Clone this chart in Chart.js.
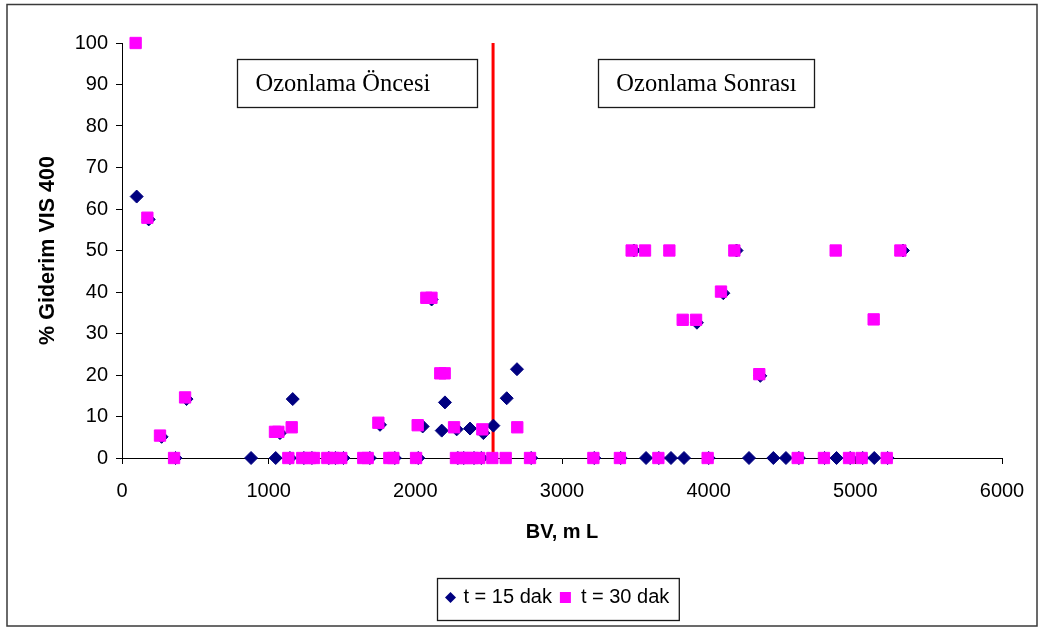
<!DOCTYPE html>
<html>
<head>
<meta charset="utf-8">
<script src="https://cdn.jsdelivr.net/npm/chart.js@4.4.1/dist/chart.umd.min.js"></script>
<style>
  html, body { margin: 0; padding: 0; background: #ffffff; }
  #wrap { width: 1043px; height: 628px; position: relative; }
</style>
</head>
<body>
<div id="wrap"><canvas id="chart" width="1043" height="628"></canvas></div>
<script>
// Series names
const seriesNames = ['t = 15 dak', 't = 30 dak'];

// t = 15 dak : bed volume (mL) and % removal
const bv15 = [100, 182, 270, 365, 440, 880, 1048, 1077, 1145, 1164, 1240, 1295, 1410, 1455, 1510,
  1690, 1759, 1860, 2020, 2050, 2111, 2180, 2202, 2282, 2290, 2330, 2373, 2400, 2450, 2464,
  2532, 2623, 2693, 2790, 3220, 3400, 3490, 3573, 3660, 3743, 3832, 3920, 4000, 4100, 4190,
  4275, 4352, 4441, 4527, 4615, 4790, 4872, 4965, 5050, 5129, 5220, 5325];
const giderim15 = [63, 57.5, 5.1, 0, 14.2, 0, 0, 6.0, 0, 14.2, 0, 0, 0, 0, 0,
  0, 8.0, 0, 0, 7.6, 38.2, 6.6, 13.4, 6.9, 0, 0, 7.1, 0, 0, 6.0,
  7.8, 14.4, 21.4, 0, 0, 0, 50, 0, 0, 0, 0, 32.6, 0, 39.7, 50,
  0, 19.8, 0, 0, 0, 0, 0, 0, 0, 0, 0, 50];

// t = 30 dak : bed volume (mL) and % removal
const bv30 = [93, 173, 259, 355, 430, 1043, 1066, 1134, 1157, 1229, 1282, 1309, 1400, 1440, 1495,
  1645, 1675, 1748, 1823, 1850, 2005, 2016, 2075, 2110, 2170, 2200, 2264, 2277, 2316, 2350,
  2391, 2436, 2457, 2525, 2616, 2695, 2782, 3214, 3395, 3475, 3566, 3657, 3732, 3823, 3914,
  3993, 4084, 4175, 4345, 4607, 4786, 4866, 4957, 5043, 5125, 5214, 5307];
const giderim30 = [100, 57.9, 5.4, 0, 14.6, 6.3, 6.3, 0, 7.4, 0, 0, 0, 0, 0, 0,
  0, 0, 8.5, 0, 0, 0, 7.9, 38.6, 38.6, 20.4, 20.4, 7.4, 0, 0, 0,
  0, 0, 6.9, 0, 0, 7.4, 0, 0, 0, 50, 50, 0, 50, 33.3, 33.3,
  0, 40.1, 50, 20.2, 0, 0, 50, 0, 0, 33.4, 0, 50];

// Bed volume at which ozonation starts (divider line)
const ozonationBV = 2530;
const regionLabels = ['Ozonlama Öncesi', 'Ozonlama Sonrası'];

// Axis ticks
const xTicks = [0, 1000, 2000, 3000, 4000, 5000, 6000];
const yTicks = [0, 10, 20, 30, 40, 50, 60, 70, 80, 90, 100];
const xTitle = 'BV, m L';
const yTitle = '% Giderim VIS 400';

const NAVY = '#000080';
const MAGENTA = '#ff00ff';
const SANS = '"Liberation Sans", Arial, sans-serif';
const SERIF = '"Liberation Serif", "Times New Roman", serif';

const toPoints = (xs, ys) => xs.map((x, i) => ({ x: x, y: ys[i] }));

// Frame, region captions and legend box
const decorations = {
  id: 'decorations',
  afterDraw(chart) {
    const ctx = chart.ctx;
    const xs = chart.scales.x, ys = chart.scales.y;
    ctx.save();

    // outer frame
    ctx.strokeStyle = '#3a3a3a';
    ctx.lineWidth = 1.5;
    ctx.strokeRect(7, 4.5, 1030, 621.5);

    // region captions (boxes anchored to data coordinates)
    const boxes = [
      { text: regionLabels[0], x0: 785, x1: 2420, pad: 18, align: 'left' },
      { text: regionLabels[1], x0: 3245, x1: 4718, pad: 0, align: 'center' }
    ];
    ctx.font = '24.5px ' + SERIF;
    ctx.textBaseline = 'middle';
    boxes.forEach(b => {
      const left = Math.round(xs.getPixelForValue(b.x0)) + 0.5;
      const right = Math.round(xs.getPixelForValue(b.x1)) + 0.5;
      const top = Math.round(ys.getPixelForValue(96.2)) + 0.5;
      const bottom = Math.round(ys.getPixelForValue(84.6)) + 0.5;
      ctx.fillStyle = '#ffffff';
      ctx.fillRect(left, top, right - left, bottom - top);
      ctx.strokeStyle = '#1a1a1a';
      ctx.lineWidth = 1.3;
      ctx.strokeRect(left, top, right - left, bottom - top);
      ctx.fillStyle = '#000000';
      ctx.textAlign = b.align;
      const tx = b.align === 'left' ? left + b.pad : (left + right) / 2;
      ctx.fillText(b.text, tx, (top + bottom) / 2 + 1);
    });

    // legend
    ctx.font = '20px ' + SANS;
    const w1 = ctx.measureText(seriesNames[0]).width;
    const w2 = ctx.measureText(seriesNames[1]).width;
    const legendW = 13 + 13 + w1 + 8 + 11 + 10 + w2 + 10;
    const cx = (chart.chartArea.left + chart.chartArea.right) / 2 - 4;
    const lx = Math.round(cx - legendW / 2) + 0.5;
    const ly = 578.5, lh = 42;
    ctx.strokeStyle = '#1a1a1a';
    ctx.lineWidth = 1.3;
    ctx.strokeRect(lx, ly, legendW, lh);
    const my = ly + lh / 2 - 2;
    // diamond marker
    let px = lx + 13;
    ctx.fillStyle = NAVY;
    ctx.beginPath();
    ctx.moveTo(px, my - 5.5); ctx.lineTo(px + 5.5, my); ctx.lineTo(px, my + 5.5); ctx.lineTo(px - 5.5, my);
    ctx.closePath(); ctx.fill();
    ctx.fillStyle = '#000000';
    ctx.textAlign = 'left';
    ctx.textBaseline = 'middle';
    px += 13;
    ctx.fillText(seriesNames[0], px, my);
    px += w1 + 8;
    // square marker
    ctx.fillStyle = MAGENTA;
    ctx.fillRect(px, my - 5.5, 11, 11);
    px += 11 + 10;
    ctx.fillStyle = '#000000';
    ctx.fillText(seriesNames[1], px, my);
    ctx.restore();
  }
};

new Chart(document.getElementById('chart'), {
  type: 'scatter',
  data: {
    datasets: [
      {
        label: seriesNames[1],
        data: toPoints(bv30, giderim30),
        pointStyle: 'rect',
        pointRadius: 8,
        pointBackgroundColor: MAGENTA,
        pointBorderColor: MAGENTA,
        pointBorderWidth: 1,
        order: 1,
        clip: false
      },
      {
        label: seriesNames[0],
        data: toPoints(bv15, giderim15),
        pointStyle: 'rectRot',
        pointRadius: 6.5,
        pointBackgroundColor: NAVY,
        pointBorderColor: NAVY,
        pointBorderWidth: 1,
        order: 2,
        clip: false
      },
      {
        type: 'line',
        label: 'ozonation',
        data: [{ x: ozonationBV, y: yTicks[0] }, { x: ozonationBV, y: yTicks[yTicks.length - 1] }],
        borderColor: '#ff0000',
        borderWidth: 3,
        pointRadius: 0,
        fill: false,
        order: 3,
        clip: false
      }
    ]
  },
  options: {
    responsive: false,
    animation: false,
    devicePixelRatio: 1,
    layout: { padding: { left: 0, right: 41, top: 43, bottom: 0 } },
    plugins: {
      legend: { display: false },
      tooltip: { enabled: false }
    },
    scales: {
      x: {
        type: 'linear',
        min: xTicks[0],
        max: xTicks[xTicks.length - 1],
        afterBuildTicks: s => { s.ticks = xTicks.map(v => ({ value: v })); },
        afterFit: s => { s.height = 170; },
        grid: { display: true, drawOnChartArea: false, drawTicks: true, tickLength: 6, tickColor: '#000', tickWidth: 1 },
        border: { display: true, color: '#000', width: 1 },
        ticks: { color: '#000', font: { family: SANS, size: 20 }, padding: 15, maxRotation: 0, callback: v => String(v) },
        title: { display: true, text: xTitle, color: '#000', font: { family: SANS, size: 20, weight: 'bold' }, padding: { top: 0, bottom: 84 } }
      },
      y: {
        type: 'linear',
        min: yTicks[0],
        max: yTicks[yTicks.length - 1],
        afterBuildTicks: s => { s.ticks = yTicks.map(v => ({ value: v })); },
        afterFit: s => { s.width = 122; },
        grid: { display: true, drawOnChartArea: false, drawTicks: true, tickLength: 6, tickColor: '#000', tickWidth: 1 },
        border: { display: true, color: '#000', width: 1 },
        ticks: { color: '#000', font: { family: SANS, size: 20 }, padding: 8, callback: v => String(v) },
        title: { display: true, text: yTitle, color: '#000', font: { family: SANS, size: 21.5, weight: 'bold' }, padding: { top: 35, bottom: 0 } }
      }
    }
  },
  plugins: [decorations]
});
</script>
</body>
</html>
